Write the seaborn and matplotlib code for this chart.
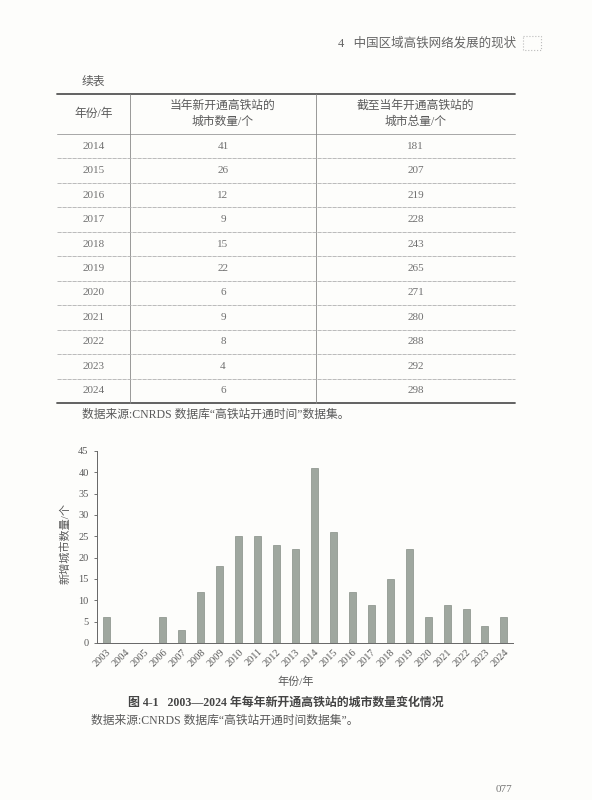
import matplotlib.pyplot as plt
import seaborn as sns
import pandas as pd

# data
years = [str(y) for y in range(2003, 2025)]
new_cities = [6, 0, 0, 6, 3, 12, 18, 25, 25, 23, 22, 41, 26, 12, 9, 15, 22, 6, 9, 8, 4, 6]

table_years = ["2014", "2015", "2016", "2017", "2018", "2019", "2020", "2021", "2022", "2023", "2024"]
table_new = [41, 26, 12, 9, 15, 22, 6, 9, 8, 4, 6]
table_total = [181, 207, 219, 228, 243, 265, 271, 280, 288, 292, 298]

sns.set_theme(style="white")
plt.rcParams['font.family'] = ['Liberation Serif', 'Noto Sans CJK SC', 'DejaVu Sans']

txt = '#5a5a5a'
fig = plt.figure(figsize=(5.92, 8.0), dpi=100)
fig.patch.set_facecolor('#fdfdfb')

# page overlay in pixel coordinates
pg = fig.add_axes([0, 0, 1, 1])
pg.set_xlim(0, 592)
pg.set_ylim(800, 0)
pg.axis('off')

pg.text(338, 43, "4   中国区域高铁网络发展的现状", fontsize=9, color='#666666',
        va='center', ha='left')
pg.add_patch(plt.Rectangle((523, 36), 18, 14, facecolor='none', edgecolor='#bbbbbb',
                           lw=0.8, linestyle=':'))
pg.text(82, 82, "续表", fontsize=8.5, color=txt, va='center')

# table
left, right = 57, 515
c1, c2 = 130, 316
top, head_bot, row_h = 94, 134, 24.45
pg.plot([left, right], [top, top], color='#555555', lw=1.3)
pg.plot([left, right], [head_bot, head_bot], color='#999999', lw=0.6)
bottom = head_bot + row_h * len(table_years)
pg.plot([left, right], [bottom, bottom], color='#555555', lw=1.3)
pg.plot([c1, c1], [top, bottom], color='#888888', lw=0.6)
pg.plot([c2, c2], [top, bottom], color='#888888', lw=0.6)

pg.text((left + c1) / 2, 114, "年份/年", fontsize=8.5, color=txt, ha='center', va='center')
pg.text((c1 + c2) / 2, 114, "当年新开通高铁站的\n城市数量/个", fontsize=8.5, color=txt,
        ha='center', va='center', linespacing=1.4)
pg.text((c2 + right) / 2, 114, "截至当年开通高铁站的\n城市总量/个", fontsize=8.5, color=txt,
        ha='center', va='center', linespacing=1.4)

for i, (yr, n, t) in enumerate(zip(table_years, table_new, table_total)):
    yc = head_bot + row_h * (i + 0.5)
    pg.text((left + c1) / 2, yc, yr, fontsize=8, color='#707070', ha='center', va='center')
    pg.text((c1 + c2) / 2, yc, str(n), fontsize=8, color='#707070', ha='center', va='center')
    pg.text((c2 + right) / 2, yc, str(t), fontsize=8, color='#707070', ha='center', va='center')
    if i < len(table_years) - 1:
        yl = head_bot + row_h * (i + 1)
        pg.plot([left, right], [yl, yl], color='#b0b0b0', lw=0.6, linestyle=(0, (5, 1)))

pg.text(82, 415, "数据来源:CNRDS 数据库“高铁站开通时间”数据集。", fontsize=8.5, color=txt, va='center')

# bar chart
ax = fig.add_axes([97 / 592, 1 - 643 / 800, 416 / 592, 192 / 800])
ax.set_facecolor('none')
df = pd.DataFrame({"year": years, "count": new_cities})
sns.barplot(data=df, x="year", y="count", ax=ax, color='#9fa79f', width=0.37,
            edgecolor='#868e86', linewidth=0.5, saturation=1)
ax.set_ylim(0, 45)
ax.set_xlim(-0.48, 21.48)
ax.set_yticks(range(0, 46, 5))
ax.tick_params(axis='y', labelsize=7.5, colors=txt, length=2, width=0.6, pad=4, left=True)
ax.tick_params(axis='x', labelsize=7.5, colors=txt, length=0, pad=3)
plt.setp(ax.get_xticklabels(), rotation=45, ha='right', rotation_mode='anchor')
for s in ['top', 'right']:
    ax.spines[s].set_visible(False)
for s in ['left', 'bottom']:
    ax.spines[s].set_color('#666666')
    ax.spines[s].set_linewidth(0.7)
ax.set_xlabel("")
ax.set_ylabel("")

pg.text(65, 543, "新增城市数量/个", fontsize=8, color=txt, rotation=90, ha='center', va='center')
pg.text(296, 682, "年份/年", fontsize=8, color=txt, ha='center', va='center')
pg.text(286, 703, "图 4-1   2003—2024 年每年新开通高铁站的城市数量变化情况", fontsize=8.6,
        color='#444444', ha='center', va='center', fontweight='bold')
pg.text(91, 721, "数据来源:CNRDS 数据库“高铁站开通时间数据集”。", fontsize=8.5, color=txt, va='center')
pg.text(504, 789, "077", fontsize=8, color='#777777', ha='center', va='center')

fig.savefig("out.png", dpi=100, facecolor=fig.get_facecolor())
